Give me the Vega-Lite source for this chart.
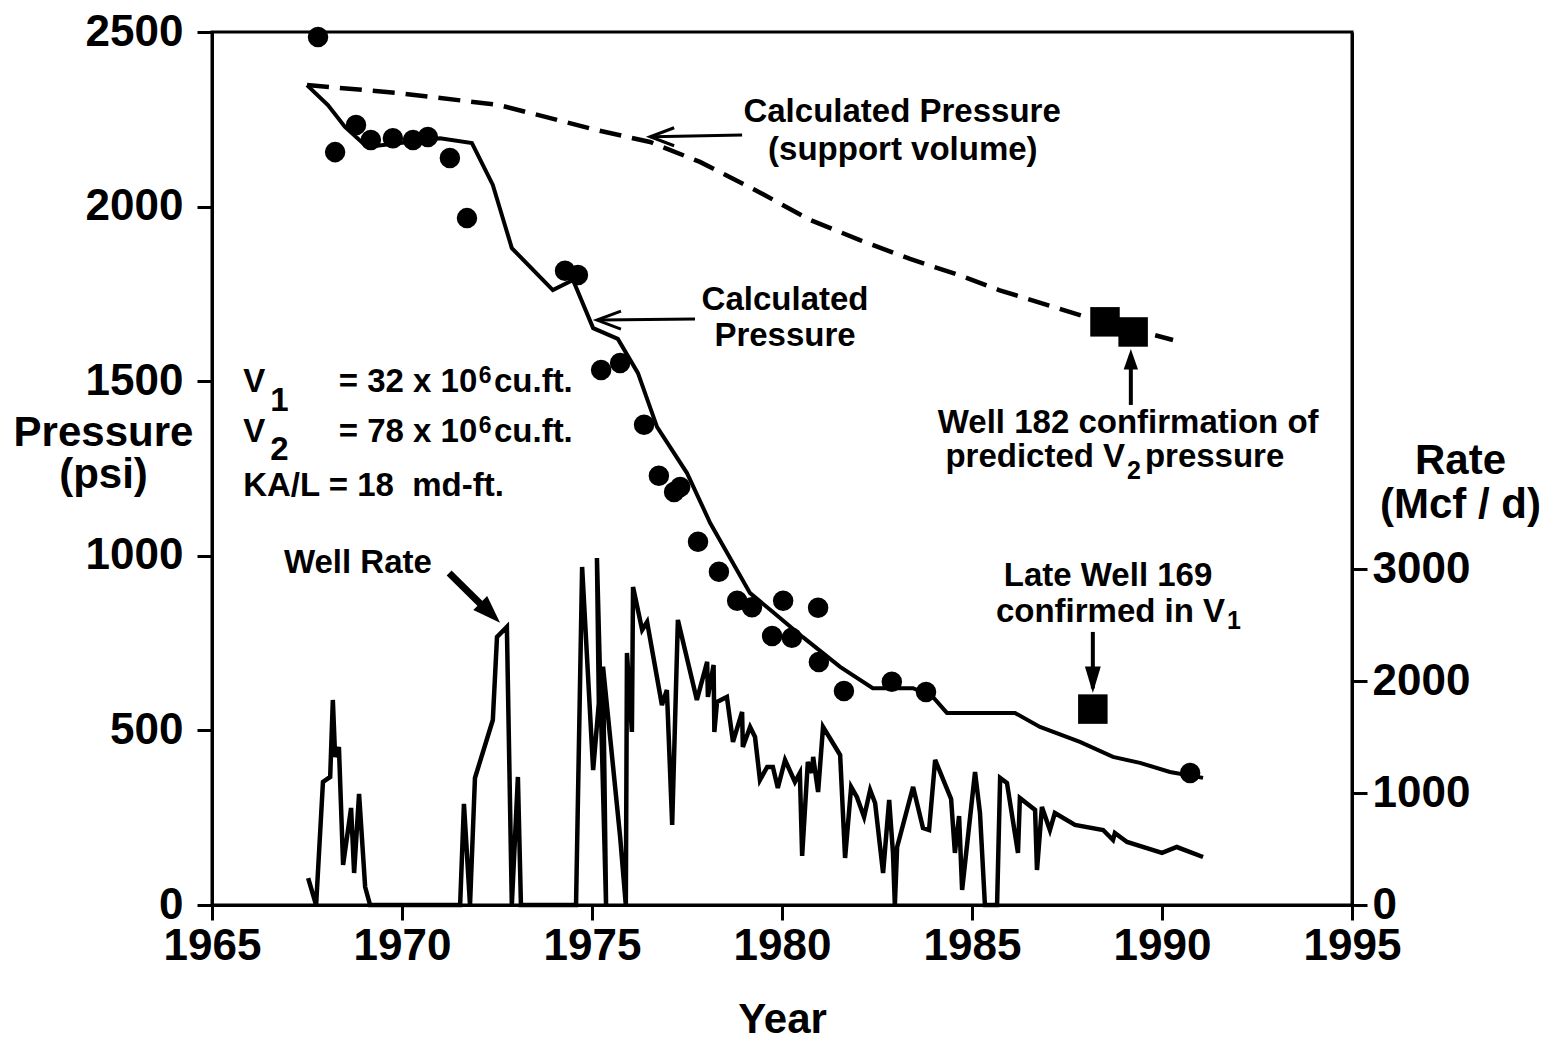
{
  "$schema": "https://vega.github.io/schema/vega-lite/v6.json",
  "width": 1140,
  "height": 873,
  "autosize": "none",
  "padding": {"left": 212, "top": 32, "right": 196, "bottom": 137},
  "background": "white",
  "datasets": {
    "calc": [
      {"year": 1967.50, "p": 2348}, {"year": 1968.05, "p": 2291}, {"year": 1968.50, "p": 2228},
      {"year": 1969.08, "p": 2171}, {"year": 1971.00, "p": 2196}, {"year": 1971.84, "p": 2182},
      {"year": 1972.39, "p": 2062}, {"year": 1972.89, "p": 1881}, {"year": 1973.97, "p": 1761},
      {"year": 1974.50, "p": 1790}, {"year": 1975.03, "p": 1652}, {"year": 1975.68, "p": 1621},
      {"year": 1976.21, "p": 1523}, {"year": 1976.71, "p": 1369}, {"year": 1977.50, "p": 1237},
      {"year": 1978.11, "p": 1094}, {"year": 1979.16, "p": 893}, {"year": 1979.76, "p": 839},
      {"year": 1980.55, "p": 767}, {"year": 1981.53, "p": 682}, {"year": 1982.39, "p": 621},
      {"year": 1983.45, "p": 621}, {"year": 1983.97, "p": 596}, {"year": 1984.34, "p": 550},
      {"year": 1986.13, "p": 550}, {"year": 1986.79, "p": 510}, {"year": 1987.84, "p": 467},
      {"year": 1988.71, "p": 424}, {"year": 1989.42, "p": 407}, {"year": 1990.21, "p": 381},
      {"year": 1991.08, "p": 364}
    ],
    "support": [
      {"year": 1967.50, "p": 2348}, {"year": 1969.92, "p": 2325}, {"year": 1972.55, "p": 2291},
      {"year": 1975.13, "p": 2219}, {"year": 1976.53, "p": 2185}, {"year": 1977.84, "p": 2128},
      {"year": 1979.39, "p": 2042}, {"year": 1980.74, "p": 1962}, {"year": 1982.05, "p": 1904},
      {"year": 1983.37, "p": 1850}, {"year": 1984.74, "p": 1801}, {"year": 1985.71, "p": 1761},
      {"year": 1988.00, "p": 1684}, {"year": 1990.29, "p": 1618}
    ],
    "obs": [
      {"year": 1967.79, "p": 2486}, {"year": 1968.24, "p": 2156}, {"year": 1968.79, "p": 2234},
      {"year": 1969.18, "p": 2191}, {"year": 1969.76, "p": 2196}, {"year": 1970.29, "p": 2191},
      {"year": 1970.68, "p": 2199}, {"year": 1971.26, "p": 2139}, {"year": 1971.71, "p": 1967},
      {"year": 1974.29, "p": 1816}, {"year": 1974.63, "p": 1804}, {"year": 1975.24, "p": 1532},
      {"year": 1975.74, "p": 1552}, {"year": 1976.37, "p": 1375}, {"year": 1976.76, "p": 1229},
      {"year": 1977.32, "p": 1197}, {"year": 1977.16, "p": 1183}, {"year": 1977.79, "p": 1040},
      {"year": 1978.34, "p": 954}, {"year": 1978.82, "p": 871}, {"year": 1979.21, "p": 853},
      {"year": 1979.74, "p": 770}, {"year": 1980.03, "p": 871}, {"year": 1980.26, "p": 765},
      {"year": 1980.95, "p": 851}, {"year": 1980.97, "p": 696}, {"year": 1981.63, "p": 613},
      {"year": 1982.89, "p": 639}, {"year": 1983.79, "p": 610}, {"year": 1990.74, "p": 378}
    ],
    "wells": [
      {"year": 1988.50, "p": 1670}, {"year": 1989.24, "p": 1641}, {"year": 1988.18, "p": 561}
    ],
    "rate": [
      {"year": 1967.53, "rate": 241}, {"year": 1967.74, "rate": 0}, {"year": 1967.92, "rate": 1099},
      {"year": 1968.11, "rate": 1144}, {"year": 1968.18, "rate": 1832}, {"year": 1968.24, "rate": 1323},
      {"year": 1968.34, "rate": 1412}, {"year": 1968.45, "rate": 357}, {"year": 1968.66, "rate": 867},
      {"year": 1968.74, "rate": 286}, {"year": 1968.87, "rate": 992}, {"year": 1969.03, "rate": 161},
      {"year": 1969.16, "rate": 0}, {"year": 1971.53, "rate": 0}, {"year": 1971.63, "rate": 903},
      {"year": 1971.79, "rate": 0}, {"year": 1971.92, "rate": 1135}, {"year": 1972.39, "rate": 1653},
      {"year": 1972.50, "rate": 2395}, {"year": 1972.76, "rate": 2484}, {"year": 1972.89, "rate": 0},
      {"year": 1973.05, "rate": 1144}, {"year": 1973.13, "rate": 0}, {"year": 1974.58, "rate": 0},
      {"year": 1974.74, "rate": 3020}, {"year": 1975.03, "rate": 1206}, {"year": 1975.18, "rate": 1805},
      {"year": 1975.13, "rate": 3100}, {"year": 1975.37, "rate": 0}, {"year": 1975.29, "rate": 2130},
      {"year": 1975.74, "rate": 610}, {"year": 1975.89, "rate": 0}, {"year": 1975.92, "rate": 2252},
      {"year": 1976.05, "rate": 1546}, {"year": 1976.08, "rate": 2842}, {"year": 1976.32, "rate": 2458},
      {"year": 1976.45, "rate": 2529}, {"year": 1976.84, "rate": 1787}, {"year": 1976.97, "rate": 1921},
      {"year": 1977.11, "rate": 715}, {"year": 1977.26, "rate": 2547}, {"year": 1977.76, "rate": 1832},
      {"year": 1978.03, "rate": 2172}, {"year": 1978.05, "rate": 1859}, {"year": 1978.20, "rate": 2145},
      {"year": 1978.22, "rate": 1546}, {"year": 1978.29, "rate": 1814}, {"year": 1978.55, "rate": 1859},
      {"year": 1978.71, "rate": 1457}, {"year": 1978.95, "rate": 1725}, {"year": 1978.97, "rate": 1412},
      {"year": 1979.16, "rate": 1591}, {"year": 1979.29, "rate": 1501}, {"year": 1979.42, "rate": 1117},
      {"year": 1979.61, "rate": 1233}, {"year": 1979.76, "rate": 1233}, {"year": 1979.89, "rate": 1046},
      {"year": 1980.08, "rate": 1296}, {"year": 1980.34, "rate": 1099}, {"year": 1980.47, "rate": 1180},
      {"year": 1980.53, "rate": 438}, {"year": 1980.68, "rate": 1278}, {"year": 1980.79, "rate": 1180},
      {"year": 1980.82, "rate": 1323}, {"year": 1980.95, "rate": 1010}, {"year": 1981.08, "rate": 1591},
      {"year": 1981.53, "rate": 1340}, {"year": 1981.66, "rate": 420}, {"year": 1981.82, "rate": 1055},
      {"year": 1981.97, "rate": 965}, {"year": 1982.16, "rate": 786}, {"year": 1982.32, "rate": 1028},
      {"year": 1982.45, "rate": 912}, {"year": 1982.66, "rate": 286}, {"year": 1982.82, "rate": 938},
      {"year": 1982.92, "rate": 465}, {"year": 1982.97, "rate": 0}, {"year": 1983.03, "rate": 518},
      {"year": 1983.45, "rate": 1055}, {"year": 1983.71, "rate": 688}, {"year": 1983.87, "rate": 670},
      {"year": 1984.03, "rate": 1296}, {"year": 1984.45, "rate": 947}, {"year": 1984.55, "rate": 465},
      {"year": 1984.66, "rate": 795}, {"year": 1984.74, "rate": 134}, {"year": 1985.08, "rate": 1189},
      {"year": 1985.21, "rate": 822}, {"year": 1985.34, "rate": 0}, {"year": 1985.66, "rate": 0},
      {"year": 1985.74, "rate": 1135}, {"year": 1985.92, "rate": 1090}, {"year": 1986.21, "rate": 465},
      {"year": 1986.26, "rate": 956}, {"year": 1986.66, "rate": 849}, {"year": 1986.71, "rate": 313},
      {"year": 1986.84, "rate": 876}, {"year": 1987.05, "rate": 670}, {"year": 1987.18, "rate": 822},
      {"year": 1987.71, "rate": 715}, {"year": 1988.45, "rate": 670}, {"year": 1988.71, "rate": 581},
      {"year": 1988.76, "rate": 643}, {"year": 1989.08, "rate": 563}, {"year": 1990.00, "rate": 465},
      {"year": 1990.39, "rate": 518}, {"year": 1991.08, "rate": 429}
    ],
    "labelsCenter": [
      {"year": 1983.16, "p": 2271, "label": "Calculated Pressure"},
      {"year": 1983.18, "p": 2162, "label": "(support volume)"},
      {"year": 1980.08, "p": 1733, "label": "Calculated"},
      {"year": 1980.08, "p": 1629, "label": "Pressure"},
      {"year": 1968.84, "p": 979, "label": "Well Rate"},
      {"year": 1988.58, "p": 942, "label": "Late Well 169"},
      {"year": 1989.11, "p": 1381, "label": "Well 182 confirmation of"}
    ],
    "labelsRight": [
      {"year": 1991.66, "p": 839, "label": "confirmed in V"},
      {"year": 1989.03, "p": 1282, "label": "predicted V"}
    ],
    "labelsLeft": [
      {"year": 1989.55, "p": 1282, "label": "pressure"}
    ],
    "subs": [
      {"year": 1991.71, "p": 813, "label": "1"},
      {"year": 1989.08, "p": 1244, "label": "2"}
    ],
    "blockLeft": [
      {"year": 1965.82, "p": 1498, "label": "V"},
      {"year": 1966.53, "p": 1443, "label": "1"},
      {"year": 1972.42, "p": 1498, "label": "cu.ft."},
      {"year": 1965.82, "p": 1354, "label": "V"},
      {"year": 1966.53, "p": 1303, "label": "2"},
      {"year": 1972.42, "p": 1354, "label": "cu.ft."},
      {"year": 1965.82, "p": 1200, "label": "KA/L = 18\u00a0 md-ft."}
    ],
    "blockRight": [
      {"year": 1971.98, "p": 1498, "label": "= 32 x 10"},
      {"year": 1971.98, "p": 1354, "label": "= 78 x 10"}
    ],
    "sups": [
      {"year": 1972.02, "p": 1515, "label": "6"},
      {"year": 1972.02, "p": 1372, "label": "6"}
    ],
    "thinShafts": [
      {"year": 1978.95, "p": 2205, "year2": 1976.6, "p2": 2200},
      {"year": 1977.71, "p": 1678, "year2": 1975.2, "p2": 1675}
    ],
    "openHeads": [
      {"year": 1976.53, "p": 2200},
      {"year": 1975.13, "p": 1675}
    ],
    "midShafts": [
      {"year": 1989.18, "p": 1432, "year2": 1989.18, "p2": 1575},
      {"year": 1988.18, "p": 782, "year2": 1988.18, "p2": 620}
    ],
    "headUp": [{"year": 1989.18, "p": 1592}],
    "headDown": [{"year": 1988.18, "p": 607}],
    "thickShaft": [{"year": 1971.24, "p": 951, "year2": 1972.32, "p2": 835}],
    "headDiag": [{"year": 1972.58, "p": 808}]
  },
  "encoding": {
    "x": {
      "field": "year", "type": "quantitative",
      "scale": {"domain": [1965, 1995], "nice": false, "zero": false},
      "axis": {"values": [1965, 1970, 1975, 1980, 1985, 1990, 1995], "format": "d", "title": "Year", "labelPadding": 4, "titlePadding": 31}
    }
  },
  "layer": [
    {
      "encoding": {
        "y": {
          "field": "p", "type": "quantitative",
          "scale": {"domain": [0, 2500], "nice": false, "zero": true},
          "axis": {"values": [0, 500, 1000, 1500, 2000, 2500], "format": "d", "labelPadding": 14,
                   "title": ["Pressure", "(psi)"], "titleAngle": 0, "titleAlign": "center", "titleBaseline": "alphabetic",
                   "titleX": -109, "titleY": 413, "titleLineHeight": 42}
        }
      },
      "layer": [
        {"data": {"name": "calc"}, "mark": {"type": "line", "color": "black", "strokeWidth": 4}},
        {"data": {"name": "support"}, "mark": {"type": "line", "color": "black", "strokeWidth": 4.5, "strokeDash": [22, 11]}},
        {"data": {"name": "obs"}, "mark": {"type": "point", "shape": "circle", "filled": true, "color": "black", "opacity": 1, "size": 420}},
        {"data": {"name": "wells"}, "mark": {"type": "point", "shape": "square", "filled": true, "color": "black", "opacity": 1, "size": 870}},
        {"data": {"name": "labelsCenter"}, "mark": {"type": "text", "font": "Liberation Sans", "fontWeight": "bold", "fontSize": 33, "align": "center", "baseline": "middle", "color": "black"}, "encoding": {"text": {"field": "label"}}},
        {"data": {"name": "labelsRight"}, "mark": {"type": "text", "font": "Liberation Sans", "fontWeight": "bold", "fontSize": 33, "align": "right", "baseline": "middle", "color": "black"}, "encoding": {"text": {"field": "label"}}},
        {"data": {"name": "labelsLeft"}, "mark": {"type": "text", "font": "Liberation Sans", "fontWeight": "bold", "fontSize": 33, "align": "left", "baseline": "middle", "color": "black"}, "encoding": {"text": {"field": "label"}}},
        {"data": {"name": "subs"}, "mark": {"type": "text", "font": "Liberation Sans", "fontWeight": "bold", "fontSize": 25, "align": "left", "baseline": "middle", "color": "black"}, "encoding": {"text": {"field": "label"}}},
        {"data": {"name": "blockLeft"}, "mark": {"type": "text", "font": "Liberation Sans", "fontWeight": "bold", "fontSize": 33, "align": "left", "baseline": "middle", "color": "black"}, "encoding": {"text": {"field": "label"}}},
        {"data": {"name": "blockRight"}, "mark": {"type": "text", "font": "Liberation Sans", "fontWeight": "bold", "fontSize": 33, "align": "right", "baseline": "middle", "color": "black"}, "encoding": {"text": {"field": "label"}}},
        {"data": {"name": "sups"}, "mark": {"type": "text", "font": "Liberation Sans", "fontWeight": "bold", "fontSize": 23, "align": "left", "baseline": "middle", "color": "black"}, "encoding": {"text": {"field": "label"}}},
        {"data": {"name": "thinShafts"}, "mark": {"type": "rule", "color": "black", "strokeWidth": 3}, "encoding": {"x2": {"field": "year2"}, "y2": {"field": "p2"}}},
        {"data": {"name": "openHeads"}, "mark": {"type": "point", "shape": "M2,-0.75L0,0L2,0.75", "filled": false, "stroke": "black", "strokeWidth": 3, "opacity": 1, "size": 576}},
        {"data": {"name": "midShafts"}, "mark": {"type": "rule", "color": "black", "strokeWidth": 4}, "encoding": {"x2": {"field": "year2"}, "y2": {"field": "p2"}}},
        {"data": {"name": "headUp"}, "mark": {"type": "point", "shape": "M0,0L2,-0.7L2,0.7Z", "filled": true, "color": "black", "opacity": 1, "size": 420, "angle": 90}},
        {"data": {"name": "headDown"}, "mark": {"type": "point", "shape": "M0,0L2,-0.6L2,0.6Z", "filled": true, "color": "black", "opacity": 1, "size": 700, "angle": 270}},
        {"data": {"name": "thickShaft"}, "mark": {"type": "rule", "color": "black", "strokeWidth": 7}, "encoding": {"x2": {"field": "year2"}, "y2": {"field": "p2"}}},
        {"data": {"name": "headDiag"}, "mark": {"type": "point", "shape": "M0,0L2,-0.7L2,0.7Z", "filled": true, "color": "black", "opacity": 1, "size": 784, "angle": 225}}
      ]
    },
    {
      "data": {"name": "rate"},
      "mark": {"type": "line", "color": "black", "strokeWidth": 4.5},
      "encoding": {
        "y": {
          "field": "rate", "type": "quantitative",
          "scale": {"domain": [0, 7800], "nice": false, "zero": true},
          "axis": {"orient": "right", "values": [0, 1000, 2000, 3000], "format": "d", "labelPadding": 5,
                   "title": ["Rate", "(Mcf / d)"], "titleAngle": 0, "titleAlign": "center", "titleBaseline": "alphabetic",
                   "titleX": 108, "titleY": 441, "titleLineHeight": 44}
        },
        "order": {"value": null}
      }
    }
  ],
  "resolve": {"scale": {"y": "independent"}, "axis": {"y": "independent"}},
  "config": {
    "view": {"stroke": "black", "strokeWidth": 3},
    "axis": {
      "grid": false, "domainColor": "black", "domainWidth": 3, "tickColor": "black", "tickWidth": 3, "tickSize": 15,
      "labelFont": "Liberation Sans", "labelFontWeight": "bold", "labelFontSize": 44, "labelColor": "black",
      "titleFont": "Liberation Sans", "titleFontWeight": "bold", "titleFontSize": 42, "titleColor": "black",
      "labelFlush": false, "labelOverlap": false
    }
  }
}
